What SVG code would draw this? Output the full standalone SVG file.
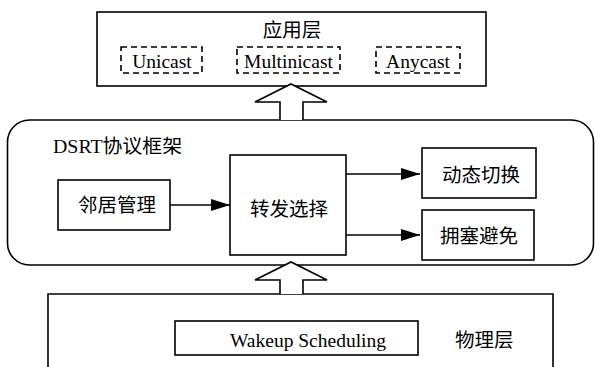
<svg xmlns="http://www.w3.org/2000/svg" width="595" height="367" viewBox="0 0 595 367">
<defs>
<style>
.b{fill:#fff;stroke:#000;stroke-width:1.6}
.d{fill:none;stroke:#000;stroke-width:1.6;stroke-dasharray:6 4}
.t{font-family:"Liberation Serif","Noto Sans CJK SC",serif;font-size:19.5px;fill:#000}
.c{text-anchor:middle}
.ln{stroke:#000;stroke-width:1.6;fill:none}
.ba{fill:#fff;stroke:#000;stroke-width:1.6;stroke-linejoin:miter}
</style>
<marker id="ah" markerWidth="19" markerHeight="12" refX="19" refY="6" orient="auto" markerUnits="userSpaceOnUse">
<path d="M0,0 L19,6 L0,12 Z" fill="#000"/>
</marker>
</defs>
<g id="app-layer">
<rect class="b" x="97" y="12" width="389" height="74"/>
<text class="t c" x="292" y="37">应用层</text>
</g>
<g id="unicast"><rect class="d" x="121" y="47" width="81" height="26"/><text class="t c" x="162" y="68">Unicast</text></g>
<g id="multinicast"><rect class="d" x="237" y="47" width="103" height="26"/><text class="t c" x="288.5" y="68">Multinicast</text></g>
<g id="anycast"><rect class="d" x="376" y="47" width="84" height="26"/><text class="t c" x="418" y="68">Anycast</text></g>
<g id="dsrt-frame">
<rect class="b" x="7.5" y="120" width="586" height="145" rx="22" ry="22" stroke-width="2"/>
<text class="t" x="53" y="153" textLength="129" lengthAdjust="spacingAndGlyphs">DSRT协议框架</text>
</g>
<g id="phy-layer">
<path class="ln" d="M48,367 L48,294 L553,294 L553,367"/>
<text class="t" x="455" y="347">物理层</text>
</g>
<g id="wakeup"><rect class="b" x="175" y="321" width="243" height="34"/><text class="t c" x="308" y="347">Wakeup Scheduling</text></g>
<g id="neighbor"><rect class="b" x="58" y="180" width="112" height="50"/><text class="t c" x="117" y="212">邻居管理</text></g>
<g id="forward"><rect class="b" x="230" y="155" width="116" height="100"/><text class="t c" x="289" y="216">转发选择</text></g>
<g id="dynamic"><rect class="b" x="422" y="148" width="114" height="50"/><text class="t c" x="481" y="182">动态切换</text></g>
<g id="congestion"><rect class="b" x="422" y="210" width="112" height="50"/><text class="t c" x="479" y="243">拥塞避免</text></g>
<g id="connectors">
<line class="ln" x1="170" y1="205" x2="230" y2="205" marker-end="url(#ah)"/>
<line class="ln" x1="346" y1="174" x2="420" y2="174" marker-end="url(#ah)"/>
<line class="ln" x1="346" y1="235" x2="420" y2="235" marker-end="url(#ah)"/>
<path class="ba" d="M280,120 L280,102 L255,102 L291,84 L327,102 L303,102 L303,120"/>
<path class="ba" d="M280,294 L280,280 L255,280 L291,262 L327,280 L303,280 L303,294"/>
</g>
</svg>
